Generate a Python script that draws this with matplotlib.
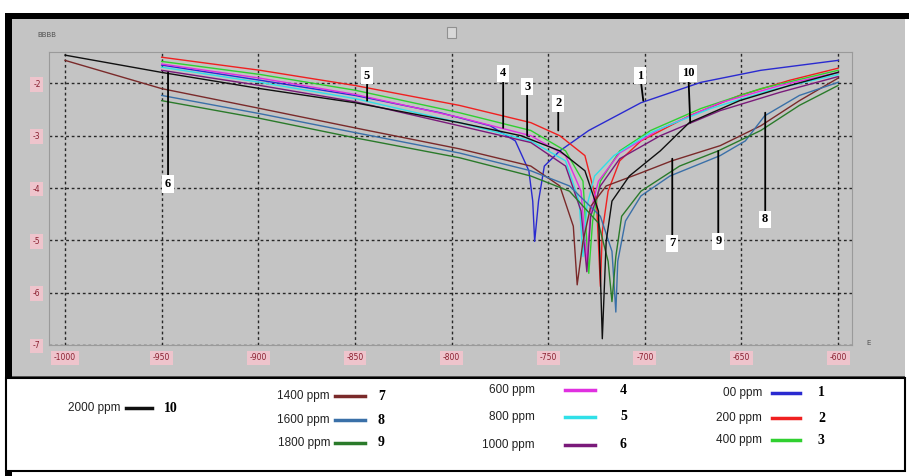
import matplotlib
matplotlib.use("Agg")
import matplotlib.pyplot as plt
from matplotlib.patches import Rectangle

# Tafel curves: potential (mV) and log current
conc_labels = ["00 ppm", "200 ppm", "400 ppm", "600 ppm", "800 ppm",
               "1000 ppm", "1400 ppm", "1600 ppm", "1800 ppm", "2000 ppm"]
curve_ids = ["1", "2", "3", "4", "5", "6", "7", "8", "9", "10"]

E1 = [-950, -899, -850, -806, -780, -767, -760, -758, -757, -755, -752, -744, -729, -702, -671, -640, -600]
L1 = [-1.65, -1.94, -2.23, -2.56, -2.81, -3.10, -3.67, -4.25, -5.02, -4.25, -3.58, -3.29, -2.90, -2.37, -1.98, -1.75, -1.56]
E2 = [-950, -899, -850, -796, -759, -744, -731, -725, -723, -722, -719, -713, -702, -677, -651, -625, -600]
L2 = [-1.50, -1.75, -2.04, -2.42, -2.75, -3.00, -3.38, -4.25, -5.88, -4.83, -4.06, -3.48, -3.10, -2.62, -2.23, -1.94, -1.71]
E3 = [-950, -899, -850, -796, -759, -741, -732, -729, -727, -723, -713, -697, -671, -640, -600]
L3 = [-1.58, -1.83, -2.13, -2.56, -2.90, -3.29, -3.87, -5.63, -4.63, -3.87, -3.29, -2.90, -2.48, -2.10, -1.75]
E4 = [-950, -899, -850, -796, -759, -741, -733, -730, -728, -724, -713, -692, -661, -630, -600]
L4 = [-1.63, -1.90, -2.21, -2.65, -3.00, -3.38, -4.06, -5.44, -4.44, -3.87, -3.33, -2.87, -2.37, -2.04, -1.79]
E5 = [-950, -899, -850, -796, -759, -741, -734, -732, -730, -726, -716, -697, -666, -635, -600]
L5 = [-1.69, -1.98, -2.29, -2.75, -3.10, -3.48, -4.25, -5.31, -4.35, -3.77, -3.38, -2.94, -2.48, -2.13, -1.83]
E6 = [-950, -899, -850, -796, -759, -741, -733, -730, -728, -723, -713, -692, -661, -630, -600]
L6 = [-1.75, -2.04, -2.35, -2.81, -3.13, -3.58, -4.44, -5.60, -4.54, -3.96, -3.44, -3.00, -2.52, -2.17, -1.87]
E7 = [-1000, -950, -899, -850, -796, -759, -744, -737, -735, -732, -728, -720, -702, -686, -661, -640, -620, -600]
L7 = [-1.56, -2.10, -2.48, -2.85, -3.25, -3.58, -3.96, -4.73, -5.85, -5.02, -4.35, -3.96, -3.71, -3.48, -3.19, -2.81, -2.33, -1.90]
E8 = [-950, -899, -850, -796, -759, -739, -723, -717, -715, -714, -710, -702, -687, -661, -648, -638, -620, -600]
L8 = [-2.23, -2.58, -2.94, -3.33, -3.67, -3.96, -4.54, -5.21, -6.37, -5.40, -4.63, -4.15, -3.77, -3.38, -3.10, -2.62, -2.23, -1.98]
E9 = [-950, -899, -850, -796, -759, -739, -724, -719, -717, -715, -712, -702, -682, -662, -640, -620, -600]
L9 = [-2.33, -2.67, -3.04, -3.42, -3.77, -4.06, -4.67, -5.40, -6.17, -5.31, -4.54, -4.06, -3.58, -3.29, -2.90, -2.42, -2.04]
E10 = [-1000, -950, -899, -850, -796, -764, -744, -731, -724, -722, -720, -717, -708, -692, -677, -651, -625, -600]
L10 = [-1.46, -1.79, -2.10, -2.37, -2.75, -3.00, -3.29, -3.67, -4.44, -6.88, -5.02, -4.25, -3.77, -3.29, -2.75, -2.33, -2.04, -1.79]

x_ticks = [-1000, -950, -900, -850, -800, -750, -700, -650, -600]
y_ticks = [-2, -3, -4, -5, -6, -7]

curves = [(E1, L1), (E2, L2), (E3, L3), (E4, L4), (E5, L5),
          (E6, L6), (E7, L7), (E8, L8), (E9, L9), (E10, L10)]
colors = ["#2a2ad0", "#f02020", "#30d030", "#e030e0", "#30e0e8",
          "#7a1a7a", "#7a2a2a", "#3a70a8", "#2a7a2a", "#101010"]

W, H = 909, 476
fig = plt.figure(figsize=(W / 100, H / 100), dpi=100)
fig.patch.set_facecolor("white")

# background / frame drawn in pixel coordinates
bg = fig.add_axes([0, 0, 1, 1])
bg.set_xlim(0, W)
bg.set_ylim(H, 0)
bg.axis("off")
bg.add_patch(Rectangle((12, 19), 893, 357, facecolor="#c4c4c4", edgecolor="none"))
bg.add_patch(Rectangle((5, 13), 904, 6, facecolor="black", edgecolor="none"))
bg.add_patch(Rectangle((5, 13), 7, 463, facecolor="black", edgecolor="none"))
bg.add_patch(Rectangle((12, 376), 893, 2, facecolor="#555555", edgecolor="none"))
bg.add_patch(Rectangle((6, 378), 899, 93, facecolor="white", edgecolor="black", linewidth=1.5))
bg.text(47, 35, "ВВВВ", fontsize=5, color="#505050", ha="center", va="center")
bg.add_patch(Rectangle((447, 27), 9, 11, facecolor="#d8d8d8", edgecolor="#909090", linewidth=0.8))
bg.text(869, 343, "E", fontsize=5, color="#505050", ha="center", va="center")

# main plot
left, right, top, bottom = 49, 852, 52, 345
ax = fig.add_axes([left / W, (H - bottom) / H, (right - left) / W, (bottom - top) / H])
ax.set_facecolor("#c4c4c4")
for (E, L), c in zip(curves, colors):
    ax.plot(E, L, color=c, linewidth=1.0)

ax.set_xlim(-1008.3, -592.8)
ax.set_ylim(-7.0, -1.4)
ax.set_xticks(x_ticks)
ax.set_yticks(y_ticks)
ax.set_xticklabels([str(v) for v in x_ticks])
ax.set_yticklabels([str(v) for v in y_ticks])
ax.grid(True, color="black", linestyle=(0, (2, 2)), linewidth=1.0, alpha=0.8)
ax.tick_params(length=0, labelsize=5.5, colors="#8a2030", pad=6)
for lab in ax.get_xticklabels() + ax.get_yticklabels():
    lab.set_bbox(dict(facecolor="#eec4cc", edgecolor="none", pad=2))
for s in ax.spines.values():
    s.set_color("#9a9a9a")

# numbered callouts
callouts = [("5", (-843.7, -2.33), (-843.7, -1.85)),
            ("4", (-773.3, -2.85), (-773.3, -1.81)),
            ("3", (-760.9, -3.00), (-760.9, -2.06)),
            ("2", (-744.8, -2.90), (-744.8, -2.38)),
            ("1", (-700.8, -2.33), (-702.4, -1.85)),
            ("10", (-676.5, -2.75), (-677.5, -1.81)),
            ("6", (-946.7, -1.79), (-946.7, -3.92)),
            ("7", (-685.8, -3.44), (-685.8, -5.06)),
            ("9", (-662.0, -3.29), (-662.0, -5.02)),
            ("8", (-637.7, -2.56), (-637.7, -4.60))]
for txt, xy, xyt in callouts:
    ax.annotate(txt, xy=xy, xytext=xyt, ha="center", va="center",
                fontsize=9, fontweight="bold", family="Liberation Serif",
                bbox=dict(facecolor="white", edgecolor="none", pad=2),
                arrowprops=dict(arrowstyle="-", color="black", lw=1.3,
                                shrinkA=0, shrinkB=0))

# legend box
legend_cols = [
    [(9, 408)],
    [(6, 396), (7, 420), (8, 443)],
    [(3, 390), (4, 417), (5, 445)],
    [(0, 393), (1, 418), (2, 440)],
]
col_x = [(120, 126, 152, 164), (330, 335, 365, 378), (535, 565, 595, 620), (762, 772, 800, 818)]
for entries, (tx, x0, x1, nx) in zip(legend_cols, col_x):
    for idx, yy in entries:
        bg.text(tx, yy, conc_labels[idx], fontsize=8.5, ha="right", va="center",
                family="Liberation Sans", color="#222222")
        bg.plot([x0, x1], [yy, yy], color=colors[idx], linewidth=2.5)
        bg.text(nx, yy, curve_ids[idx], fontsize=10, fontweight="bold",
                family="Liberation Serif", ha="left", va="center")

fig.savefig("out.png", dpi=100)
